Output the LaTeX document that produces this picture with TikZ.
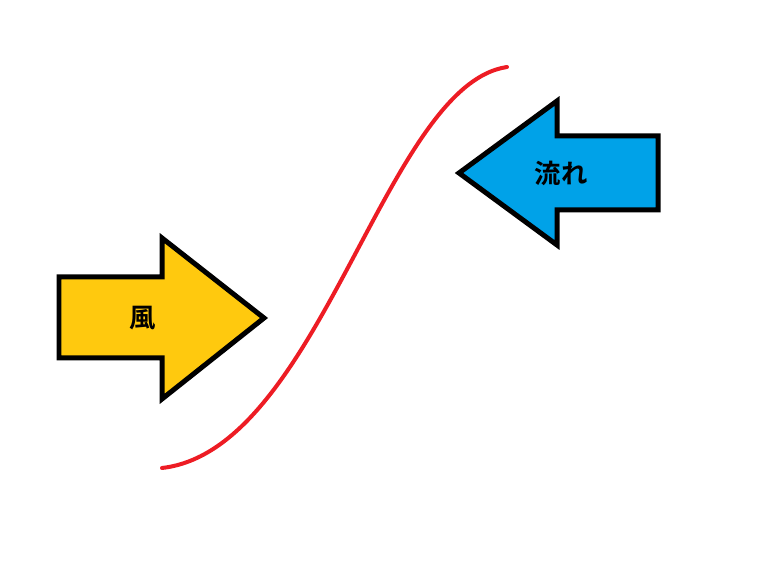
\documentclass[tikz,border=0pt]{standalone}
\usepackage{fontspec}
\usepackage{tikz}
\newfontfamily\jpfont{Noto Sans CJK JP Bold}
\definecolor{windyellow}{RGB}{255, 201, 14}
\definecolor{flowblue}{RGB}{0, 162, 232}
\definecolor{lineRed}{RGB}{237, 28, 36}

\begin{document}
\begin{tikzpicture}[
        x=0.02cm, y=-0.02cm,
        bigarrow/.style={draw=black, line width=0.1cm, miter limit=10},
        lbl/.style={font=\jpfont\fontsize{15}{18}\selectfont, inner sep=0pt},
        wave/.style={draw=lineRed, line width=0.08cm, line cap=round},
    ]
        \useasboundingbox (0,0) rectangle (765,580);

        % wind arrow (pointing right)
        \path[bigarrow, fill=windyellow] (59,277) -- (162,277) -- (162,238) -- (264,318)
            -- (162,399) -- (162,358) -- (59,358) -- cycle;
        \node[lbl] (wind) at (143,318) {風};

        % flow arrow (pointing left)
        \path[bigarrow, fill=flowblue] (658,136) -- (557,136) -- (557,101) -- (459,173)
            -- (557,245) -- (557,210) -- (658,210) -- cycle;
        \node[lbl] (flow) at (561,173) {流れ};

        % boundary curve
        \path[wave] (162,468) .. controls (320,450) and (385,85) .. (507,67);
    \end{tikzpicture}
\end{document}
